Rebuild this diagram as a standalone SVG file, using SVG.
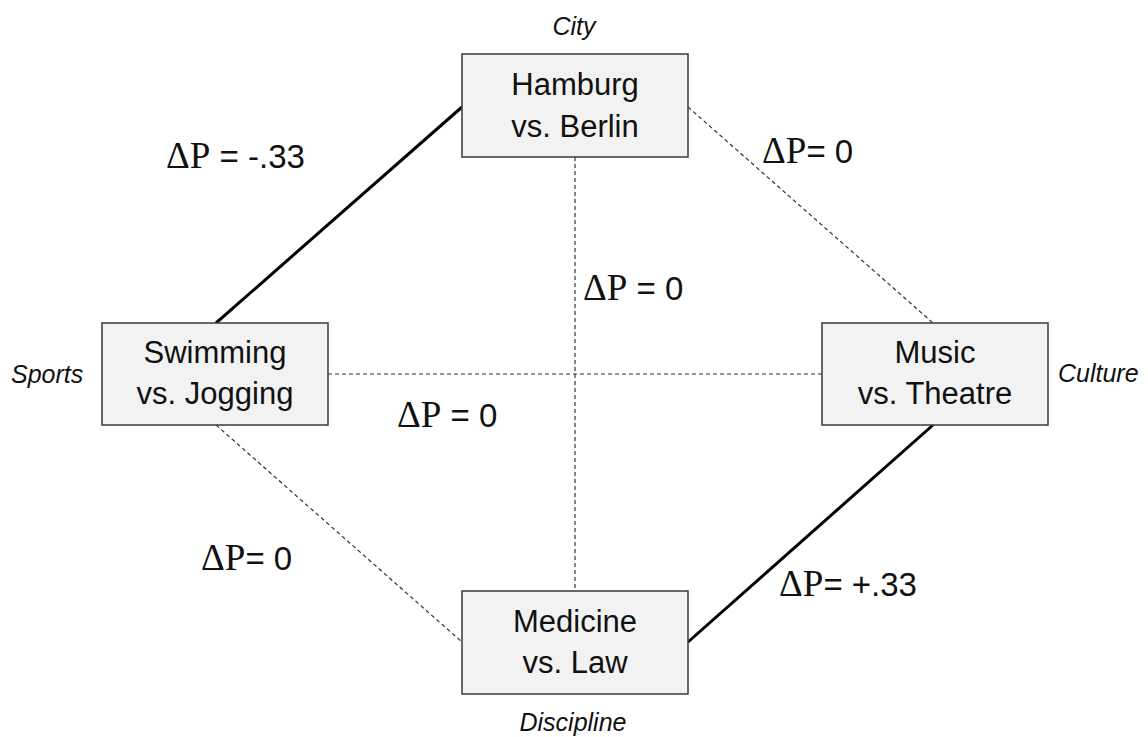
<svg xmlns="http://www.w3.org/2000/svg" width="1148" height="737" viewBox="0 0 1148 737">
<style>
.box{fill:#f2f2f2;stroke:#3a3a3a;stroke-width:1.5}
.bt{font-family:"Liberation Sans",Arial,sans-serif;font-size:31px;fill:#111;text-anchor:middle}
.cat{font-family:"Liberation Sans",Arial,sans-serif;font-size:25px;font-style:italic;fill:#111}
.solid{stroke:#000;stroke-width:3;fill:none}
.dash{stroke:#333;stroke-width:1.2;stroke-dasharray:4 3;fill:none}
.lbl{font-family:"Liberation Sans",Arial,sans-serif;font-size:33px;fill:#111}
.sym{font-family:"Liberation Serif","Times New Roman",serif;font-size:37px}
</style>
<rect width="1148" height="737" fill="#fff"/>
<g id="connectors">
<line class="solid" x1="462" y1="107" x2="216" y2="323"/>
<line class="dash" x1="688" y1="107" x2="933" y2="323"/>
<line class="dash" x1="575" y1="157" x2="575" y2="591"/>
<line class="dash" x1="328" y1="374" x2="822" y2="374"/>
<line class="dash" x1="216" y1="425" x2="462" y2="642"/>
<line class="solid" x1="688" y1="642" x2="933" y2="425"/>
</g>
<g id="labels">
<text class="lbl" x="166" y="168"><tspan class="sym">ΔP</tspan> = -.33</text>
<text class="lbl" x="762" y="163"><tspan class="sym">ΔP</tspan>= 0</text>
<text class="lbl" x="583" y="300"><tspan class="sym">ΔP</tspan> = 0</text>
<text class="lbl" x="397" y="427"><tspan class="sym">ΔP</tspan> = 0</text>
<text class="lbl" x="201" y="570"><tspan class="sym">ΔP</tspan>= 0</text>
<text class="lbl" x="779" y="596"><tspan class="sym">ΔP</tspan>= +.33</text>
</g>
<g id="node-city">
<rect class="box" x="462" y="54" width="226" height="103"/>
<text class="bt" x="575" y="95">Hamburg</text>
<text class="bt" x="575" y="137">vs. Berlin</text>
<text class="cat" x="574" y="35" text-anchor="middle">City</text>
</g>
<g id="node-sports">
<rect class="box" x="102" y="323" width="226" height="102"/>
<text class="bt" x="215" y="363">Swimming</text>
<text class="bt" x="215" y="404">vs. Jogging</text>
<text class="cat" x="11" y="383">Sports</text>
</g>
<g id="node-culture">
<rect class="box" x="822" y="323" width="226" height="102"/>
<text class="bt" x="935" y="363">Music</text>
<text class="bt" x="935" y="404">vs. Theatre</text>
<text class="cat" x="1058" y="382">Culture</text>
</g>
<g id="node-discipline">
<rect class="box" x="462" y="591" width="226" height="103"/>
<text class="bt" x="575" y="632">Medicine</text>
<text class="bt" x="575" y="673">vs. Law</text>
<text class="cat" x="573" y="731" text-anchor="middle">Discipline</text>
</g>
</svg>
